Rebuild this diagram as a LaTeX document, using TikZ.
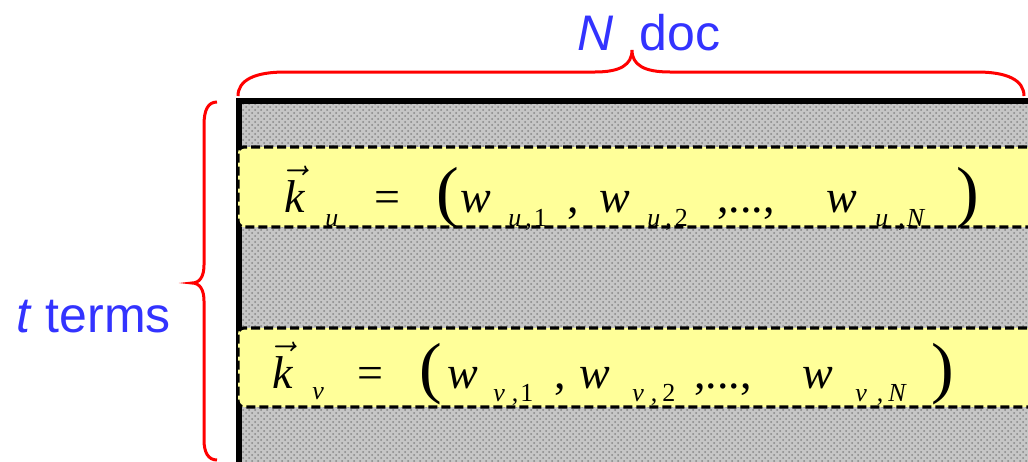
\documentclass[tikz,border=0pt]{standalone}
\usepackage{amsmath}
\usepackage{fontspec}
\setmainfont{Liberation Serif}
\newfontfamily\labelfont{Liberation Sans}
\usepackage{xcolor}
\usetikzlibrary{patterns, positioning}
\definecolor{bandyellow}{RGB}{255,255,153}
\definecolor{labelblue}{RGB}{51,51,255}

\begin{document}
\begin{tikzpicture}[
        x=0.5pt, y=-0.5pt,
        every node/.style={inner sep=0pt, anchor=base west},
        lbl/.style={font=\labelfont\fontsize{25}{30}\selectfont, text=labelblue},
        eq/.style={font=\fontsize{23}{27}\selectfont},
        idx/.style={font=\fontsize{13}{15}\selectfont},
        paren/.style={font=\fontsize{34}{40}\selectfont},
        band/.style={draw, fill=bandyellow, line width=1.6pt, dash pattern=on 4.5pt off 2pt, rounded corners=3pt},
        brace/.style={draw=red, line width=1.5pt}
    ]
    \useasboundingbox (0,0) rectangle (1028,461);
    \clip (0,0) rectangle (1028,461);
    % term-document matrix
    \fill[gray!45] (241,104) rectangle (1040,470);
    \fill[pattern=crosshatch dots, pattern color=gray!95] (241,104) rectangle (1040,470);
    \draw[line width=3pt] (238.5,470) -- (238.5,101) -- (1040,101);
    \draw[band] (1040,147) -- (238,147) -- (238,227) -- (1040,227);
    \draw[band] (1040,328) -- (238,328) -- (238,407) -- (1040,407);
    % braces
    \draw[brace] (238,96) .. controls (238,80) and (255,72) .. (285,72) -- (595,72)
        .. controls (620,72) and (632,65) .. (632,50) .. controls (632,65) and (644,72) .. (670,72)
        -- (977,72) .. controls (1007,72) and (1024,80) .. (1024,96);
    \draw[brace] (217,102) .. controls (208,102) and (204,110) .. (204,125) -- (204,265)
        .. controls (204,276) and (200,283) .. (192,283) .. controls (200,283) and (204,290) .. (204,301)
        -- (204,440) .. controls (204,452) and (208,460) .. (217,460);
    \node[lbl] (ndoc) at (577,50) {\textit{N}\hspace{13pt}doc};
    \node[lbl] (tterms) at (16,332) {\textit{t} terms};
    % row u
    \node[eq] (ku) at (284,212) {$\vec{\textit{k}}$};
    \node[idx] (kusub) at (325,226) {\textit{u}};
    \node[eq] (equ) at (374,212) {=};
    \node[paren] (lpu) at (436,214) {(};
    \node[eq] (wu1) at (460,212) {\textit{w}};
    \node[idx] (su1) at (508,226) {\textit{u}\hspace{2pt},\hspace{1pt}1};
    \node[eq] (cu1) at (567,212) {,};
    \node[eq] (wu2) at (599,212) {\textit{w}};
    \node[idx] (su2) at (647,226) {\textit{u}\hspace{2.5pt},\hspace{1.5pt}2};
    \node[eq] (dotsu) at (717,212) {,...,};
    \node[eq] (wuN) at (826,212) {\textit{w}};
    \node[idx] (suN) at (875,226) {\textit{u}\hspace{5pt},\hspace{1pt}\textit{N}};
    \node[paren] (rpu) at (956,214) {)};
    % row v
    \node[eq] (kv) at (272,388) {$\vec{\textit{k}}$};
    \node[idx] (kvsub) at (312,399) {\textit{v}};
    \node[eq] (eqv) at (357,388) {=};
    \node[paren] (lpv) at (419,390) {(};
    \node[eq] (wv1) at (447,388) {\textit{w}};
    \node[idx] (sv1) at (493,401) {\textit{v}\hspace{3.5pt},\hspace{1pt}1};
    \node[eq] (cv1) at (554,388) {,};
    \node[eq] (wv2) at (579,388) {\textit{w}};
    \node[idx] (sv2) at (632,401) {\textit{v}\hspace{3.5pt},\hspace{2.5pt}2};
    \node[eq] (dotsv) at (694,388) {,...,};
    \node[eq] (wvN) at (802,388) {\textit{w}};
    \node[idx] (svN) at (855,401) {\textit{v}\hspace{5pt},\hspace{2.5pt}\textit{N}};
    \node[paren] (rpv) at (931,390) {)};
\end{tikzpicture}
\end{document}
